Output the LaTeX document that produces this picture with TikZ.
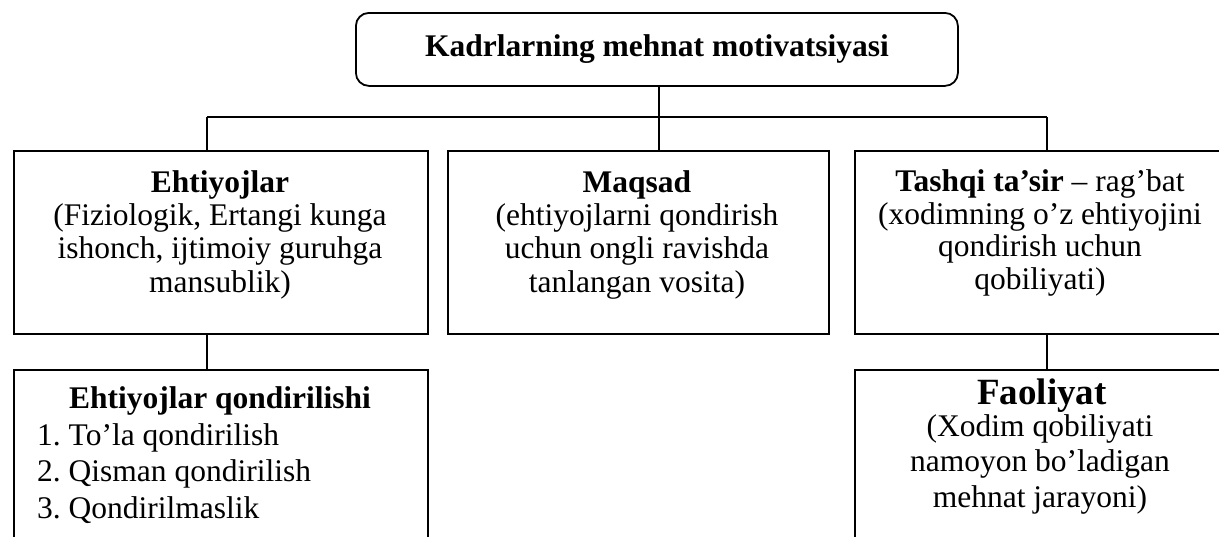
\documentclass[tikz,border=0pt]{standalone}
\usepackage{fontspec}
\setmainfont{Liberation Serif}
\begin{document}
\begin{tikzpicture}[x=1pt,y=-1pt,
  box/.style={draw, line width=1.8pt, anchor=north west, inner sep=0pt},
  link/.style={line width=1.8pt},
  % multi-line texts are placed by the baseline of their last line
  txt/.style={anchor=base, align=center, inner sep=0pt,
    font=\fontsize{31.5}{33.3}\selectfont},
  listtxt/.style={anchor=base west, align=left, inner sep=0pt,
    font=\fontsize{31.5}{36.5}\selectfont},
]
\useasboundingbox (0,0) rectangle (1219,536);
\fill[white] (0,0) rectangle (1219,536);
\clip (0,0) rectangle (1219,536);

% boxes
\node[box, rounded corners=13pt, minimum width=602pt, minimum height=73pt,
  font=\fontsize{31.5}{36}\selectfont\bfseries] (root) at (355,12)
  {Kadrlarning mehnat motivatsiyasi};
\node[box, minimum width=414pt, minimum height=183pt] (needs) at (13,150) {};
\node[box, minimum width=381pt, minimum height=183pt] (goal) at (447,150) {};
\node[box, minimum width=386pt, minimum height=183pt] (stim) at (854,150) {};
\node[box, minimum width=414pt, minimum height=200pt] (sat) at (13,369) {};
\node[box, minimum width=386pt, minimum height=200pt] (act) at (854,369) {};

% connectors
\coordinate (busL) at (207,117);
\coordinate (busR) at (1047,117);
\coordinate (busM) at (659,117);
\draw[link] (busL) -- (busR);
\draw[link] (root.south -| busM) -- (goal.north -| busM);
\draw[link] (busL) -- (needs.north -| busL);
\draw[link] (busR) -- (stim.north -| busR);
\draw[link] (needs.south -| busL) -- (sat.north -| busL);
\draw[link] (stim.south -| busR) -- (act.north -| busR);

% texts
\node[txt] (needsT) at (220,292) {\textbf{Ehtiyojlar}\\(Fiziologik, Ertangi kunga\\ishonch, ijtimoiy guruhga\\mansublik)};
\node[txt] (goalT) at (637,292) {\textbf{Maqsad}\\(ehtiyojlarni qondirish\\uchun ongli ravishda\\tanlangan vosita)};
\node[txt, font=\fontsize{31.5}{32.5}\selectfont] (stimT) at (1040,289) {\textbf{Tashqi ta’sir} – rag’bat\\(xodimning o’z ehtiyojini\\qondirish uchun\\qobiliyati)};
\node[txt] (satH) at (220,408) {\textbf{Ehtiyojlar qondirilishi}};
\node[listtxt] (satL) at (37,518) {1.\ To’la qondirilish\\2.\ Qisman qondirilish\\3.\ Qondirilmaslik};
\node[txt, font=\fontsize{37}{40}\selectfont\bfseries] (actH) at (1042,404) {Faoliyat};
\node[txt, font=\fontsize{31.5}{35.5}\selectfont] (actT) at (1040,507) {(Xodim qobiliyati\\namoyon bo’ladigan\\mehnat jarayoni)};
\end{tikzpicture}
\end{document}
